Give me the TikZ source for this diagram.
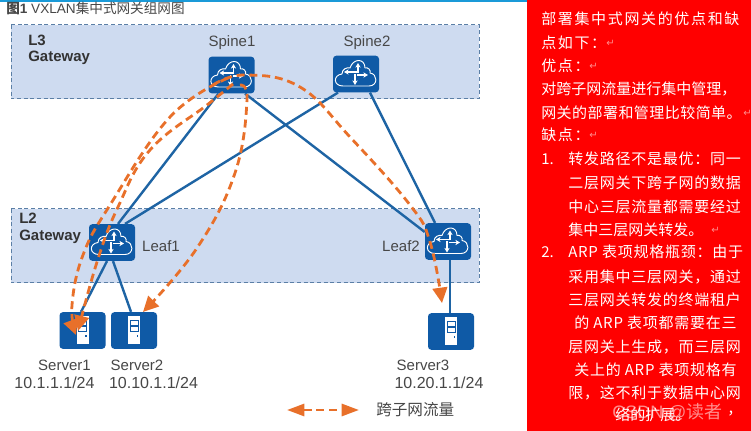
\documentclass[tikz,border=0pt]{standalone}
\usepackage{fontspec}
\usetikzlibrary{arrows.meta,calc}
\setmainfont{Liberation Sans}
\newfontfamily\cjk{Noto Sans CJK SC}
\newfontfamily\arrowfont{DejaVu Sans}
\definecolor{devblue}{HTML}{0F5AA6}
\definecolor{linkblue}{HTML}{1E64A4}
\definecolor{bandfill}{HTML}{CEDBF0}
\definecolor{bandline}{HTML}{5B7FA6}
\definecolor{flow}{HTML}{E8702A}
\definecolor{txt}{HTML}{474747}
\definecolor{topline}{HTML}{1A9AD8}
\tikzset{
  band/.style={fill=bandfill,draw=bandline,line width=.75pt,dash pattern=on 3pt off 2pt},
  dev/.style={fill=devblue,rounded corners=2.5pt,minimum width=34.5pt,minimum height=27.5pt,inner sep=0pt},
  link/.style={draw=linkblue,line width=1.8pt},
  flowline/.style={draw=flow,line width=2.1pt,dash pattern=on 6pt off 3.6pt},
  flowtip/.style={-{Triangle[length=11.5pt,width=11pt,fill=flow]}},
  lab/.style={text=txt,inner sep=0pt,font=\fontsize{11.25pt}{13pt}\selectfont},
  ip/.style={text=txt,inner sep=0pt,font=\fontsize{12pt}{14pt}\selectfont},
  bold/.style={text=black!80,anchor=west,inner sep=0pt,font=\bfseries\fontsize{11.25pt}{13pt}\selectfont},
  rtext/.style={anchor=west,inner sep=0pt,text=white,font=\cjk\fontsize{11.25pt}{13pt}\selectfont},
  retmark/.style={anchor=west,inner sep=0pt,text=red!45!white,font=\arrowfont\fontsize{7.5pt}{9pt}\selectfont},
  cloudicon/.pic={
    \draw[white,line width=.7pt,line join=round]
      (-13,12) .. controls (-23,12) and (-23,1) .. (-14,0)
      .. controls (-14,-5) and (-9,-7) .. (-6,-6)
      .. controls (-3,-16) and (9,-16) .. (9,-6)
      .. controls (12,-7) and (15,-4) .. (14,-1)
      .. controls (22,0) and (22,12) .. (13,12) -- cycle;
    \draw[white,line width=1pt,-{Stealth[length=3.5pt,width=4pt]}] (2,-1) -- (2,-11);
    \draw[white,line width=1pt,-{Stealth[length=3.5pt,width=4pt]}] (1,1) -- (12,1);
    \draw[white,line width=1pt,-{Stealth[length=3.5pt,width=4pt]}] (-1,0) -- (-1,11);
    \draw[white,line width=1pt,-{Stealth[length=3.5pt,width=4pt]}] (1,-2) -- (-12,-2);
  },
  servericon/.pic={
    \fill[white] (-6,-14) rectangle (6,14);
    \draw[devblue,line width=.55pt] (-4,-10) rectangle (4,-5);
    \draw[devblue,line width=.55pt] (-4,-4) rectangle (4,1);
    \fill[devblue] (2.5,5) rectangle (4,7);
  }
}
\newcommand\rl[5]{\node[rtext] (#1) at (#2,#3) {\addfontfeature{LetterSpace=#4}#5};}
\begin{document}
\begin{tikzpicture}[x=.75pt,y=-.75pt]
\useasboundingbox (0,0) rectangle (751,431);
\fill[white] (0,0) rectangle (751,431);
\fill[topline] (0,0) rectangle (527,2);
\fill[red] (527,0) rectangle (751,431);
% bands
\draw[band] (11,25) rectangle (479,99);
\draw[band] (11,209) rectangle (479,283);
% title
\node[anchor=west,inner sep=0pt,text=txt,font=\fontsize{10.2pt}{12pt}\selectfont] (title) at (6,8)
  {{\cjk\bfseries 图}{\bfseries 1} VXLAN{\cjk 集中式网关组网图}};
\node[bold] (l3a) at (28,40) {L3};
\node[bold] (l3b) at (28,58) {Gateway};
\node[bold] (l2a) at (19,218) {L2};
\node[bold] (l2b) at (19,237) {Gateway};
% devices
\node[dev] (spine1) at (231.5,75) {};
\node[dev] (spine2) at (356,74) {};
\node[dev] (leaf1) at (112,242.5) {};
\node[dev] (leaf2) at (448,241.5) {};
\node[dev] (server1) at (82.5,330.5) {};
\node[dev] (server2) at (134,330.5) {};
\node[dev] (server3) at (451,331.5) {};
\pic at (spine1) {cloudicon};
\pic at (spine2) {cloudicon};
\pic at (leaf1) {cloudicon};
\pic at (leaf2) {cloudicon};
\pic at (server1) {servericon};
\pic at (server2) {servericon};
\pic at (server3) {servericon};
% links
\draw[link] ($(spine1.south)+(-13,0)$) -- ($(leaf1.north)+(6,0)$);
\draw[link] ($(spine2.south)+(-18,0)$) -- ($(leaf1.north)+(13,0)$);
\draw[link] ($(spine1.south)+(13.5,0)$) -- ($(leaf2.west)+(0,-9.5)$);
\draw[link] ($(spine2.south)+(14,0)$) -- ($(leaf2.north)+(-13,0)$);
\draw[link] ($(leaf1.south)+(-5,0)$) -- ($(server1.north)+(-1.5,0)$);
\draw[link] ($(leaf1.south)+(1,0)$) -- ($(server2.north)+(-3,0)$);
\draw[link] ($(leaf2.south)+(2,0)$) -- ($(server3.north)+(-1,0)$);
% labels
\node[lab] (ls1) at (232,43) {Spine1};
\node[lab] (ls2) at (367,43) {Spine2};
\node[lab] (ll1) at (161,246) {Leaf1};
\node[lab] (ll2) at (401,246) {Leaf2};
\node[lab] (lv1) at (64.5,365) {Server1};
\node[lab] (lv2) at (137,365) {Server2};
\node[lab] (lv3) at (423,365) {Server3};
\node[ip] (ip1) at (54.5,383) {10.1.1.1/24};
\node[ip] (ip2) at (153.5,383) {10.10.1.1/24};
\node[ip] (ip3) at (439,383) {10.20.1.1/24};
% flows
\coordinate (astart) at (228,78);
\coordinate (bstart) at (233,84);
\coordinate (cstart) at (240,85);
\coordinate (dstart) at (213,85);
\coordinate (aend) at (76,335);
\coordinate (bend) at (78,331);
\coordinate (cend) at (143,312);
\coordinate (dend) at (442,303);
\draw[flowline,flowtip] plot[smooth,tension=.7] coordinates {(astart) (170,117) (110,205) (83,255) (72,305) (aend)};
\draw[flowline,flowtip] plot[smooth,tension=.7] coordinates {(bstart) (207,105) (150,150) (118,207) (97,262) (bend)};
\draw[flowline,flowtip] plot[smooth,tension=.7] coordinates {(cstart) (247,100) (235,173) (197,248) (cend)};
\draw[flowline,flowtip] plot[smooth,tension=.7] coordinates {(dstart) (245,75) (300,87) (350,137) (410,205) (430,242) (dend)};
% legend
\coordinate (lega) at (287,410);
\coordinate (legb) at (359,410);
\draw[flowline,{Triangle[length=13pt,width=9pt,fill=flow]}-{Triangle[length=13pt,width=9pt,fill=flow]}] (lega) -- (legb);
\node[anchor=west,inner sep=0pt,text=txt,font=\cjk\fontsize{11.7pt}{14pt}\selectfont] (legt) at (376,410) {跨子网流量};
% right text
\rl{r1}{541}{19}{11}{部署集中式网关的优点和缺}
\rl{r2}{541}{43}{11}{点如下：}
\rl{r3}{541}{66}{11}{优点：}
\rl{r4}{541}{89}{0}{对跨子网流量进行集中管理，}
\rl{r5}{541}{113}{3}{网关的部署和管理比较简单。}
\rl{r6}{541}{135}{11}{缺点：}
\rl{r7a}{541}{159}{0}{1.}
\rl{r7}{568}{159}{5}{转发路径不是最优：同一}
\rl{r8}{568}{183}{5}{二层网关下跨子网的数据}
\rl{r9}{568}{207}{5}{中心三层流量都需要经过}
\rl{r10}{568}{230}{0}{集中三层网关转发。}
\rl{r11a}{541}{252}{0}{2.}
\rl{r11}{568}{252}{5}{ARP 表项规格瓶颈：由于}
\rl{r12}{568}{277}{5}{采用集中三层网关，通过}
\rl{r13}{568}{300}{5}{三层网关转发的终端租户}
\rl{r14}{574}{323}{5}{的 ARP 表项都需要在三}
\rl{r15}{568}{347}{5}{层网关上生成，而三层网}
\rl{r16}{574}{370}{5}{关上的 ARP 表项规格有}
\rl{r17}{568}{393}{5}{限，这不利于数据中心网}
\rl{r18}{615}{415}{0}{络的扩展。}
\node[retmark] (m1) at (606,43) {↵};
\node[retmark] (m2) at (589,66) {↵};
\node[retmark] (m3) at (743,113) {↵};
\node[retmark] (m4) at (589,135) {↵};
\node[retmark] (m5) at (711,230) {↵};
\node[anchor=west,inner sep=0pt,text=white,opacity=.55,font=\fontsize{13.5pt}{16pt}\selectfont] (wm) at (612,412) {CSDN @{\cjk 读者}};
\node[rtext] (comma) at (727,414) {，};
\end{tikzpicture}
\end{document}
